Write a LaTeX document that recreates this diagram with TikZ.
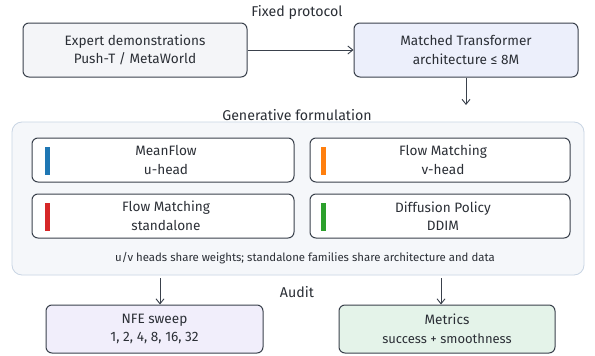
\documentclass[tikz,border=0pt]{standalone}
\usepackage{fontspec}
\setmainfont{Fira Sans}
\usetikzlibrary{arrows.meta}
\definecolor{ink}{HTML}{2B2F36}
\definecolor{edge}{HTML}{3A414C}
\definecolor{grayfill}{HTML}{F4F5F8}
\definecolor{bluefill}{HTML}{ECEFFB}
\definecolor{contfill}{HTML}{F5F7FA}
\definecolor{contedge}{HTML}{C9D5E4}
\definecolor{lavfill}{HTML}{F1EEFB}
\definecolor{greenfill}{HTML}{E4F3E9}
\definecolor{barblue}{HTML}{1F77B4}
\definecolor{barorange}{HTML}{FF7F0E}
\definecolor{barred}{HTML}{D62728}
\definecolor{bargreen}{HTML}{2CA02C}
\tikzset{
  x=1pt, y=-1pt,
  box/.style={draw=edge, line width=1pt, rounded corners=6pt, text=ink, align=center, font=\fontsize{13.6}{18.5}\selectfont, inner sep=0pt},
  title/.style={text=ink, font=\fontsize{14.2}{16}\selectfont},
  conn/.style={draw=edge, line width=0.9pt, -{Straight Barb[length=5pt,width=8pt]}},
  bar/.style={draw=none, minimum width=5pt, minimum height=28pt, inner sep=0pt}
}
\begin{document}
\begin{tikzpicture}
\useasboundingbox[fill=white] (0,0) rectangle (595,356);
% titles
\node[title] (t1) at (297,12) {Fixed protocol};
\node[title] (t2) at (297,115) {Generative formulation};
\node[title] (t3) at (297,292) {Audit};
% top boxes
\node[box, fill=grayfill, minimum width=224pt, minimum height=54pt] (expert) at (135,50) {Expert demonstrations\\Push-T / MetaWorld};
\node[box, fill=bluefill, minimum width=224pt, minimum height=54pt] (matched) at (466,50) {Matched Transformer\\architecture ≤ 8M};
% container
\node[draw=contedge, fill=contfill, line width=0.8pt, rounded corners=10pt, minimum width=572pt, minimum height=153pt, inner sep=0pt] (cont) at (298,198.5) {};
% inner boxes
\node[box, fill=white, minimum width=262pt, minimum height=44pt] (mf) at (163,160) {};
\node[box, fill=white, minimum width=260pt, minimum height=44pt] (fmv) at (440,160) {};
\node[box, fill=white, minimum width=262pt, minimum height=44pt] (fms) at (163,216) {};
\node[box, fill=white, minimum width=260pt, minimum height=44pt] (dp) at (440,216) {};
\node[bar, fill=barblue] (b1) at (47,160.5) {};
\node[bar, fill=barorange] (b2) at (323.5,160.5) {};
\node[bar, fill=barred] (b3) at (47,216.5) {};
\node[bar, fill=bargreen] (b4) at (323.5,216.5) {};
\node[box, draw=none] (mft) at (166,160) {MeanFlow\\u-head};
\node[box, draw=none] (fmvt) at (443,160) {Flow Matching\\v-head};
\node[box, draw=none] (fmst) at (166,216) {Flow Matching\\standalone};
\node[box, draw=none] (dpt) at (443,216) {Diffusion Policy\\DDIM};
\node[text=ink, font=\fontsize{11.4}{13}\selectfont] (cap) at (305,258) {u/v heads share weights; standalone families share architecture and data};
% bottom boxes
\node[box, fill=lavfill, minimum width=217pt, minimum height=48pt] (nfe) at (154.5,329) {NFE sweep\\1, 2, 4, 8, 16, 32};
\node[box, fill=greenfill, minimum width=216pt, minimum height=48pt] (met) at (447,329) {Metrics\\{\fontsize{13}{16}\selectfont success + smoothness}};
% connectors
\draw[conn] (expert.east) -- (matched.west);
\coordinate (c1) at (466,105);
\draw[conn] (matched.south) -- (c1);
\coordinate (c2s) at (160,278);
\coordinate (c3s) at (441,278);
\draw[conn] (c2s) -- (nfe.north -| c2s);
\draw[conn] (c3s) -- (met.north -| c3s);
\end{tikzpicture}
\end{document}
